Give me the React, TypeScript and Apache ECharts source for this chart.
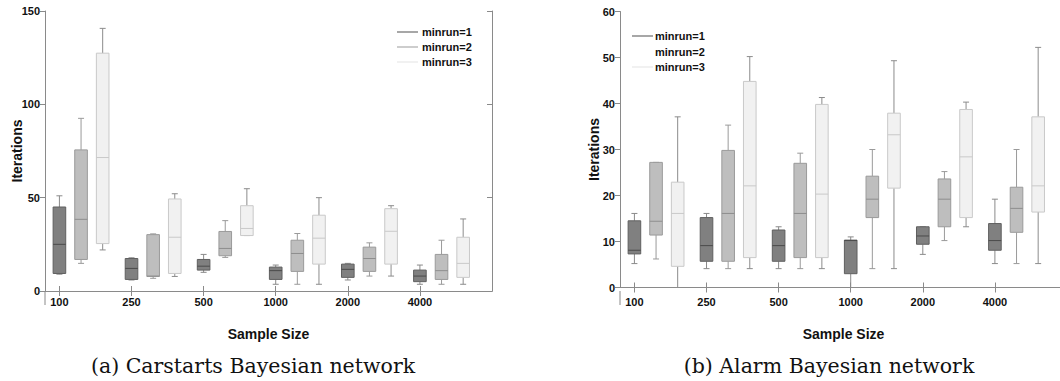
import React, { useEffect, useRef } from "react";
import * as echarts from "echarts";

// ---- data ----
const sampleSizes = ["100", "250", "500", "1000", "2000", "4000"];
const groupPositions = [1, 2, 3, 4, 5, 6];
const seriesNames = ["minrun=1", "minrun=2", "minrun=3"];
const yTicksCarstarts = [0, 50, 100, 150];
const yTicksAlarm = [0, 10, 20, 30, 40, 50, 60];

// each row: [min, Q1, median, Q3, max] per sample size
const carstartsMinrun1 = [
  [9, 9.4, 25, 45, 51],
  [5.9, 6.2, 12.1, 17.4, 17.8],
  [10, 11.2, 13.3, 16.9, 19.6],
  [3.6, 6.2, 10.9, 12.8, 13.9],
  [5.9, 7.3, 11.6, 14.4, 14.8],
  [3.6, 5, 8, 11.2, 13.9],
];
const carstartsMinrun2 = [
  [14.8, 16.9, 38.4, 75.6, 92.5],
  [6.8, 7.8, 8, 30.2, 30.6],
  [18, 18.9, 22.8, 31.9, 37.7],
  [3.6, 10.5, 20.1, 27.2, 30.8],
  [8, 10.5, 17.4, 23.5, 25.8],
  [3.6, 6.2, 10.9, 19.6, 27.2],
];
const carstartsMinrun3 = [
  [22, 25.4, 71.5, 127.4, 140.7],
  [7.8, 9.4, 28.8, 49.3, 52.1],
  [29.7, 29.7, 33.5, 45.7, 54.8],
  [3.6, 14.4, 28.3, 40.6, 50],
  [8, 14.4, 32, 44.1, 45.7],
  [3.6, 7.3, 14.8, 28.8, 38.6],
];
const alarmMinrun1 = [
  [5.2, 7.3, 8.1, 14.5, 16.1],
  [4.1, 5.7, 9.1, 15.2, 16.1],
  [4.1, 5.7, 9.1, 12.5, 13.2],
  [0, 3.0, 10.2, 10.3, 11],
  [7.2, 9.4, 11.2, 13.2, 13.2],
  [5.2, 8.1, 10.2, 13.9, 19.2],
];
const alarmMinrun2 = [
  [6.2, 11.4, 14.4, 27.2, 27.2],
  [4.1, 5.7, 16.1, 29.8, 35.3],
  [4.1, 6.5, 16.1, 27, 29.2],
  [4.1, 15.2, 19.2, 24.2, 30],
  [10.2, 13.2, 19.2, 23.6, 25.2],
  [5.2, 12, 17.2, 21.8, 30],
];
const alarmMinrun3 = [
  [0, 4.6, 16.1, 22.9, 37.1],
  [4.1, 6.5, 22.1, 44.8, 50.2],
  [4.1, 6.5, 20.3, 39.8, 41.3],
  [4.1, 21.6, 33.2, 37.9, 49.3],
  [13.2, 15.2, 28.4, 38.7, 40.3],
  [5.2, 16.4, 22.1, 37.1, 52.2],
];

// ---- styling ----
const boxOffsets = [0, 0.3, 0.6];
const boxStyles = [
  { fill: "#808080", stroke: "#5f5f5f", median: "#4a4a4a", whisker: "#8a8a8a", legend: "#8a8a8a" },
  { fill: "#bebebe", stroke: "#9a9a9a", median: "#8e8e8e", whisker: "#9a9a9a", legend: "#bdbdbd" },
  { fill: "#f1f1f1", stroke: "#c9c9c9", median: "#c9c9c9", whisker: "#8c8c8c", legend: "#ececec" },
];
const FONT = "'Liberation Sans', Arial, Helvetica, sans-serif";
const AXIS_COLOR = "#8a8a8a";

function makeRender(k: number) {
  const st = boxStyles[k];
  return (params: any, api: any) => {
    const x = api.value(0);
    const mn = api.value(1);
    const q1 = api.value(2);
    const md = api.value(3);
    const q3 = api.value(4);
    const mx = api.value(5);
    const px = api.coord([x, mn])[0];
    const yMin = api.coord([x, mn])[1];
    const yQ1 = api.coord([x, q1])[1];
    const yMd = api.coord([x, md])[1];
    const yQ3 = api.coord([x, q3])[1];
    const yMax = api.coord([x, mx])[1];
    const w = api.size([0.175, 0])[0];
    const cap = 3;
    const ln = { stroke: st.whisker, lineWidth: 1 };
    return {
      type: "group",
      children: [
        { type: "line", shape: { x1: px, y1: yMax, x2: px, y2: yQ3 }, style: ln },
        { type: "line", shape: { x1: px - cap, y1: yMax, x2: px + cap, y2: yMax }, style: ln },
        { type: "line", shape: { x1: px, y1: yMin, x2: px, y2: yQ1 }, style: ln },
        { type: "line", shape: { x1: px - cap, y1: yMin, x2: px + cap, y2: yMin }, style: ln },
        {
          type: "rect",
          shape: { x: px - w / 2, y: yQ3, width: w, height: Math.max(yQ1 - yQ3, 0.5) },
          style: { fill: st.fill, stroke: st.stroke, lineWidth: 1 },
        },
        { type: "line", shape: { x1: px - w / 2, y1: yMd, x2: px + w / 2, y2: yMd }, style: { stroke: st.median, lineWidth: 1 } },
      ],
    };
  };
}

function toData(rows: number[][], k: number) {
  return rows.map((r, i) => [groupPositions[i] + boxOffsets[k], ...r]);
}

function xAxes(gridIndex: number, offset: number) {
  return [
    {
      type: "value",
      gridIndex,
      position: "bottom",
      min: 0.8,
      max: 7,
      offset,
      name: "Sample Size",
      nameLocation: "middle",
      nameGap: 36,
      nameMoveOverlap: false,
      nameTextStyle: { fontFamily: FONT, fontWeight: "bold", fontSize: 14, color: "#111" },
      axisLine: { show: true, lineStyle: { color: AXIS_COLOR } },
      axisTick: { show: true, inside: true, length: 5, customValues: groupPositions, lineStyle: { color: AXIS_COLOR } },
      axisLabel: {
        show: true,
        customValues: groupPositions,
        margin: 5,
        formatter: (v: number) => sampleSizes[Math.round(v) - 1] ?? "",
        fontFamily: FONT,
        fontWeight: "bold",
        fontSize: 11,
        color: "#111",
      },
      splitLine: { show: false },
    },
    {
      type: "value",
      gridIndex,
      position: "top",
      min: 0.8,
      max: 7,
      axisLine: { show: true, lineStyle: { color: AXIS_COLOR } },
      axisTick: { show: true, inside: true, length: 5, customValues: groupPositions, lineStyle: { color: AXIS_COLOR } },
      axisLabel: { show: false },
      splitLine: { show: false },
    },
  ];
}

function yAxes(gridIndex: number, ticks: number[], nameGap: number) {
  const max = ticks[ticks.length - 1];
  const interval = ticks[1] - ticks[0];
  return [
    {
      type: "value",
      gridIndex,
      position: "left",
      min: ticks[0],
      max,
      interval,
      name: "Iterations",
      nameLocation: "middle",
      nameGap,
      nameMoveOverlap: false,
      nameRotate: 90,
      nameTextStyle: { fontFamily: FONT, fontWeight: "bold", fontSize: 14, color: "#111" },
      axisLine: { show: true, lineStyle: { color: AXIS_COLOR } },
      axisTick: { show: true, inside: false, length: 5, lineStyle: { color: AXIS_COLOR } },
      axisLabel: { show: true, margin: 5, fontFamily: FONT, fontWeight: "bold", fontSize: 11, color: "#111" },
      splitLine: { show: false },
    },
    {
      type: "value",
      gridIndex,
      position: "right",
      min: ticks[0],
      max,
      interval,
      axisLine: { show: true, lineStyle: { color: AXIS_COLOR } },
      axisTick: { show: true, inside: true, length: 5, lineStyle: { color: AXIS_COLOR } },
      axisLabel: { show: false },
      splitLine: { show: false },
    },
  ];
}

function legendGraphics(lineX: number, textX: number, ys: number[], showLines: boolean[]) {
  const out: any[] = [];
  seriesNames.forEach((n, i) => {
    if (showLines[i]) {
      out.push({
        type: "line",
        shape: { x1: lineX, y1: ys[i], x2: lineX + 21, y2: ys[i] },
        style: { stroke: boxStyles[i].legend, lineWidth: 1.5 },
      });
    }
    out.push({
      type: "text",
      x: textX,
      y: ys[i],
      style: {
        text: n,
        fill: "#111",
        fontFamily: FONT,
        fontWeight: "bold",
        fontSize: 11,
        verticalAlign: "middle",
        align: "left",
      },
    });
  });
  return out;
}

export default function App() {
  const ref = useRef<HTMLDivElement>(null);
  useEffect(() => {
    if (!ref.current) return;
    const chart = echarts.init(ref.current, undefined, { renderer: "svg" });
    const carstarts = [carstartsMinrun1, carstartsMinrun2, carstartsMinrun3];
    const alarm = [alarmMinrun1, alarmMinrun2, alarmMinrun3];
    const series: any[] = [];
    carstarts.forEach((rows, k) =>
      series.push({
        type: "custom",
        name: seriesNames[k],
        xAxisIndex: 0,
        yAxisIndex: 0,
        renderItem: makeRender(k),
        encode: { x: 0, y: [1, 2, 3, 4, 5] },
        data: toData(rows, k),
      })
    );
    alarm.forEach((rows, k) =>
      series.push({
        type: "custom",
        name: seriesNames[k],
        xAxisIndex: 2,
        yAxisIndex: 2,
        renderItem: makeRender(k),
        encode: { x: 0, y: [1, 2, 3, 4, 5] },
        data: toData(rows, k),
      })
    );
    const capStyle = {
      fill: "#111",
      fontFamily: "'DejaVu Serif', 'Liberation Serif', serif",
      fontSize: 20.5,
      align: "center",
      verticalAlign: "middle",
    };
    chart.setOption({
      animation: false,
      backgroundColor: "#ffffff",
      grid: [
        { left: 45, top: 11, width: 447, height: 280 },
        { left: 620, top: 11.5, width: 447, height: 276 },
      ],
      xAxis: [...xAxes(0, 0), ...xAxes(1, 3.5)],
      yAxis: [...yAxes(0, yTicksCarstarts, 21), ...yAxes(1, yTicksAlarm, 19)],
      series,
      graphic: [
        { type: "line", shape: { x1: 45, y1: 291, x2: 45, y2: 305 }, style: { stroke: AXIS_COLOR, lineWidth: 1 } },
        { type: "line", shape: { x1: 620, y1: 291, x2: 620, y2: 305 }, style: { stroke: AXIS_COLOR, lineWidth: 1 } },
        ...legendGraphics(397, 422, [32, 47, 62], [true, true, true]),
        ...legendGraphics(632, 655, [36, 52, 67], [true, false, true]),
        { type: "text", x: 253, y: 366, style: { ...capStyle, text: "(a) Carstarts Bayesian network" } },
        { type: "text", x: 829, y: 366, style: { ...capStyle, text: "(b) Alarm Bayesian network" } },
      ],
    });
    return () => chart.dispose();
  }, []);
  return (
    <div style={{ position: "absolute", left: 0, top: 0, width: 1060, height: 381, overflow: "hidden" }}>
      <div ref={ref} style={{ width: 1090, height: 381 }} />
    </div>
  );
}
